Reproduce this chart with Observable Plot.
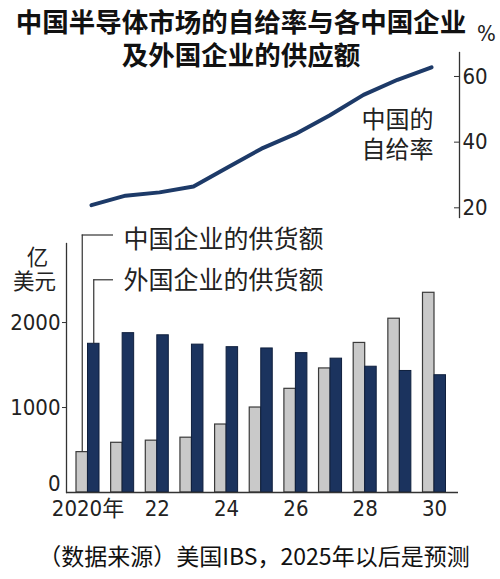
<!DOCTYPE html>
<html><head><meta charset="utf-8">
<script src="https://cdn.jsdelivr.net/npm/d3@7"></script>
<script src="https://cdn.jsdelivr.net/npm/@observablehq/plot@0.6"></script>
<style>
body{margin:0;background:#fff;width:500px;height:579px;position:relative;overflow:hidden;font-family:"Noto Sans CJK SC",sans-serif;color:#111;}
#title{position:absolute;top:5px;left:0;width:482px;text-align:center;font-weight:700;font-size:26.5px;line-height:32.5px;white-space:nowrap;}
#pct{position:absolute;left:477px;top:21px;font-size:22px;font-family:"Liberation Sans Narrow","DejaVu Sans Condensed",sans-serif;color:#222;}
#line{position:absolute;left:0;top:40px;}
#bars{position:absolute;left:0;top:222px;}
#caption{position:absolute;top:540px;left:4px;width:500px;text-align:center;font-size:23px;line-height:30px;white-space:nowrap;}
svg{overflow:visible;}
</style></head><body>
<div id="title">中国半导体市场的自给率与各中国企业<br>及外国企业的供应额</div>
<div id="pct">%</div>
<div id="line"></div>
<div id="bars"></div>
<div id="caption">（数据来源）美国IBS，2025年以后是预测</div>
<script>
// ---- data ----
const years = [2020, 2021, 2022, 2023, 2024, 2025, 2026, 2027, 2028, 2029, 2030];
const selfSufficiency = [20.8, 23.7, 24.7, 26.5, 32.3, 38.0, 42.5, 48.1, 54.4, 59.0, 62.8];
const chinaSupply = [475, 585, 610, 645, 800, 1000, 1220, 1460, 1760, 2045, 2350];
const foreignSupply = [1750, 1875, 1850, 1740, 1710, 1695, 1640, 1575, 1480, 1430, 1380];
const seriesNames = ["中国企业的供货额", "外国企业的供货额"];
const lineLabel = "中国的\n自给率";
const barUnit = ["亿", "美元"];
const xTickYears = [2020, 2022, 2024, 2026, 2028, 2030];
const xTickLabels = ["2020年", "22", "24", "26", "28", "30"];
const lineTicks = [20, 40, 60];
const barTicks = [1000, 2000];

// ---- style ----
const NUM = "'Liberation Sans Narrow','DejaVu Sans Condensed','Noto Sans CJK SC',sans-serif";
const CJK = "'Noto Sans CJK SC',sans-serif";
const NAVY = "#1b335e";
const AXIS = "#333";
const fmt = d => String(d);

// ---- line chart ----
const lineData = years.map((year, i) => ({year, rate: selfSufficiency[i]}));
const linePlot = Plot.plot({
  width: 500, height: 190,
  marginLeft: 66, marginRight: 41, marginTop: 12, marginBottom: 13,
  x: {type: "point", domain: years, range: [87.5, 434], padding: 0, axis: null},
  y: {domain: [17.05, 67.3], axis: null},
  style: {fontFamily: NUM, fontSize: "22px", color: "#222", background: "transparent", overflow: "visible"},
  marks: [
    Plot.frame({anchor: "right", stroke: AXIS, strokeWidth: 1.3}),
    Plot.axisY(lineTicks, {anchor: "right", label: null, tickFormat: fmt, tickSize: 6, insetRight: 6, tickPadding: 3, stroke: AXIS, fontSize: 22}),
    Plot.line(lineData, {x: "year", y: "rate", stroke: "#1d3a68", strokeWidth: 4}),
    Plot.text([lineLabel], {frameAnchor: "right", textAnchor: "end", dx: -26, dy: -2, lineHeight: 1.25, fontSize: 24, fontFamily: CJK, fill: "#222"})
  ]
});
document.getElementById("line").appendChild(linePlot);

// ---- bar chart ----
const chinaData = years.map((year, i) => ({year, value: chinaSupply[i]}));
const foreignData = years.map((year, i) => ({year, value: foreignSupply[i]}));
const pInner = 0.336, pOuter = 0.2885;
const bandRange = [66, 455.5];
const halfBand = ((bandRange[1] - bandRange[0]) / (years.length - pInner + 2 * pOuter)) * (1 - pInner) / 2;
const barPlot = Plot.plot({
  width: 500, height: 310,
  marginLeft: 66, marginRight: 42, marginTop: 21, marginBottom: 40,
  x: {type: "band", domain: years, range: bandRange, paddingInner: pInner, paddingOuter: pOuter, round: false, axis: null},
  y: {domain: [0, 2930], axis: null},
  style: {fontFamily: NUM, fontSize: "22px", color: "#222", background: "transparent", overflow: "visible"},
  marks: [
    Plot.barY(chinaData, {x: "year", y: "value", fill: "#c9c9c9", stroke: "#3a3a3a", strokeWidth: 1.2, insetRight: halfBand}),
    Plot.barY(foreignData, {x: "year", y: "value", fill: NAVY, stroke: "#0f1f3d", strokeWidth: 1, insetLeft: halfBand}),
    Plot.frame({anchor: "left", stroke: AXIS, strokeWidth: 1.3}),
    Plot.ruleY([0], {stroke: AXIS, strokeWidth: 1.5}),
    Plot.axisY(barTicks, {anchor: "left", label: null, tickFormat: fmt, tickSize: 4, tickPadding: 2, stroke: AXIS, fontSize: 22}),
    Plot.axisY([0], {anchor: "left", label: null, tickFormat: fmt, tickSize: 0, tickPadding: 6, dy: -9, fontSize: 22}),
    Plot.axisX(xTickYears, {anchor: "bottom", label: null, tickSize: 0, tickPadding: 8, fontSize: 22,
      tickFormat: d => xTickLabels[xTickYears.indexOf(d)]}),
    // legend leaders
    Plot.ruleX([chinaData[0]], {x: "year", y1: "value", y2: () => 3030, dx: -halfBand / 2, stroke: "#333", strokeWidth: 1.2}),
    Plot.ruleX([foreignData[0]], {x: "year", y1: "value", y2: () => 2503, dx: halfBand / 2, stroke: "#333", strokeWidth: 1.2}),
    Plot.ruleY([3030], {insetLeft: 15.7, insetRight: 345, stroke: "#333", strokeWidth: 1.2}),
    Plot.ruleY([2503], {insetLeft: 27.3, insetRight: 345, stroke: "#333", strokeWidth: 1.2}),
    Plot.text([seriesNames[0]], {y: () => 3030, frameAnchor: "left", textAnchor: "start", dx: 57, dy: 5, fontSize: 25, letterSpacing: 1, fontFamily: CJK, fill: "#222"}),
    Plot.text([seriesNames[1]], {y: () => 2503, frameAnchor: "left", textAnchor: "start", dx: 57, dy: 1.5, fontSize: 25, letterSpacing: 1, fontFamily: CJK, fill: "#222"}),
    Plot.text([barUnit[0]], {frameAnchor: "top-left", textAnchor: "middle", lineAnchor: "middle", dx: -29, dy: 15, fontSize: 21.5, fontFamily: CJK, fill: "#222"}),
    Plot.text([barUnit[1]], {frameAnchor: "top-left", textAnchor: "middle", lineAnchor: "middle", dx: -32, dy: 39, fontSize: 21.5, fontFamily: CJK, fill: "#222"})
  ]
});
document.getElementById("bars").appendChild(barPlot);
</script>
</body></html>
